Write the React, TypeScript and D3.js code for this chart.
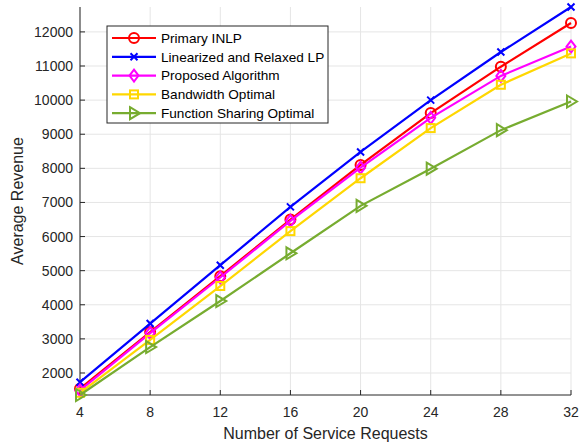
import React, { useEffect } from "react";
import * as d3 from "d3";

const requests = [4, 8, 12, 16, 20, 24, 28, 32];
const primaryInlp = [1540, 3200, 4840, 6500, 8100, 9620, 10980, 12260];
const relaxedLp = [1730, 3450, 5160, 6870, 8480, 10000, 11410, 12730];
const proposed = [1490, 3170, 4800, 6460, 8020, 9480, 10710, 11570];
const bandwidthOpt = [1420, 2970, 4550, 6160, 7710, 9180, 10450, 11370];
const sharingOpt = [1355, 2760, 4110, 5510, 6900, 7990, 9120, 9960];
const xTicks = [4, 8, 12, 16, 20, 24, 28, 32];
const yTicks = [2000, 3000, 4000, 5000, 6000, 7000, 8000, 9000, 10000, 11000, 12000];

const seriesList = [
  { name: "Primary INLP", values: primaryInlp, color: "#ff0000", marker: "circle" },
  { name: "Linearized and Relaxed LP", values: relaxedLp, color: "#0000ff", marker: "x" },
  { name: "Proposed Algorithm", values: proposed, color: "#ff00ff", marker: "diamond" },
  { name: "Bandwidth Optimal", values: bandwidthOpt, color: "#ffd700", marker: "square" },
  { name: "Function Sharing Optimal", values: sharingOpt, color: "#77ac30", marker: "triangle" },
];

const W = 581;
const H = 444;
const margin = { top: 7, right: 10, bottom: 49, left: 80 };

function Marker({ type, x, y, color }: { type: string; x: number; y: number; color: string }) {
  const common = { fill: "none", stroke: color, strokeWidth: 2 };
  if (type === "circle") return <circle cx={x} cy={y} r={5} {...common} />;
  if (type === "x")
    return <path d={`M${x - 3.5},${y - 3.5}L${x + 3.5},${y + 3.5}M${x - 3.5},${y + 3.5}L${x + 3.5},${y - 3.5}`} {...common} />;
  if (type === "diamond")
    return <path d={`M${x},${y - 6}L${x + 4.5},${y}L${x},${y + 6}L${x - 4.5},${y}Z`} {...common} />;
  if (type === "square") return <rect x={x - 4} y={y - 4} width={8} height={8} {...common} />;
  return <path d={`M${x - 4},${y - 6}L${x + 6},${y}L${x - 4},${y + 6}Z`} {...common} />;
}

export default function App() {
  useEffect(() => {
    document.body.style.margin = "0";
  }, []);

  const x = d3.scaleLinear().domain([4, 32]).range([margin.left, W - margin.right]);
  const y = d3.scaleLinear().domain([1355, 12730]).range([H - margin.bottom, margin.top]);
  const line = d3
    .line<number>()
    .x((_, i) => x(requests[i]))
    .y((d) => y(d));

  const font = "'Liberation Sans', Arial, sans-serif";
  const axisColor = "#262626";
  const bottom = H - margin.bottom;

  return (
    <svg width={W} height={H} style={{ display: "block", background: "white", fontFamily: font }}>
      {/* grid */}
      {xTicks.map((t) => (
        <line key={"gx" + t} x1={x(t)} x2={x(t)} y1={margin.top} y2={bottom} stroke="#e5e5e5" />
      ))}
      {yTicks.map((t) => (
        <line key={"gy" + t} x1={margin.left} x2={W - margin.right} y1={y(t)} y2={y(t)} stroke="#e5e5e5" />
      ))}

      {/* axes */}
      <line x1={margin.left} x2={margin.left} y1={margin.top} y2={bottom} stroke={axisColor} />
      <line x1={margin.left} x2={W - margin.right} y1={bottom} y2={bottom} stroke={axisColor} />
      {xTicks.map((t) => (
        <g key={"tx" + t}>
          <line x1={x(t)} x2={x(t)} y1={bottom} y2={bottom - 5} stroke={axisColor} />
          <text x={x(t)} y={bottom + 22} textAnchor="middle" fontSize={14} fill={axisColor}>
            {t}
          </text>
        </g>
      ))}
      {yTicks.map((t) => (
        <g key={"ty" + t}>
          <line x1={margin.left} x2={margin.left + 5} y1={y(t)} y2={y(t)} stroke={axisColor} />
          <text x={margin.left - 7} y={y(t) + 5} textAnchor="end" fontSize={14} fill={axisColor}>
            {t}
          </text>
        </g>
      ))}
      <text x={(margin.left + W - margin.right) / 2} y={439} textAnchor="middle" fontSize={16} fill={axisColor}>
        Number of Service Requests
      </text>
      <text
        transform={`translate(23,${(margin.top + bottom) / 2}) rotate(-90)`}
        textAnchor="middle"
        fontSize={16}
        fill={axisColor}
      >
        Average Revenue
      </text>

      {/* series */}
      {seriesList.map((s) => (
        <g key={s.name}>
          <path d={line(s.values) || ""} fill="none" stroke={s.color} strokeWidth={2.2} />
          {s.values.map((v, i) => (
            <Marker key={i} type={s.marker} x={x(requests[i])} y={y(v)} color={s.color} />
          ))}
        </g>
      ))}

      {/* legend */}
      <g>
        <rect x={107} y={26} width={221} height={97} fill="white" stroke={axisColor} />
        {seriesList.map((s, i) => {
          const ly = 38 + i * 18.8;
          return (
            <g key={"lg" + s.name}>
              <line x1={112} x2={156} y1={ly} y2={ly} stroke={s.color} strokeWidth={2.2} />
              <Marker type={s.marker} x={134} y={ly} color={s.color} />
              <text x={161} y={ly + 4.8} fontSize={13.6} fill="#000">
                {s.name}
              </text>
            </g>
          );
        })}
      </g>
    </svg>
  );
}
